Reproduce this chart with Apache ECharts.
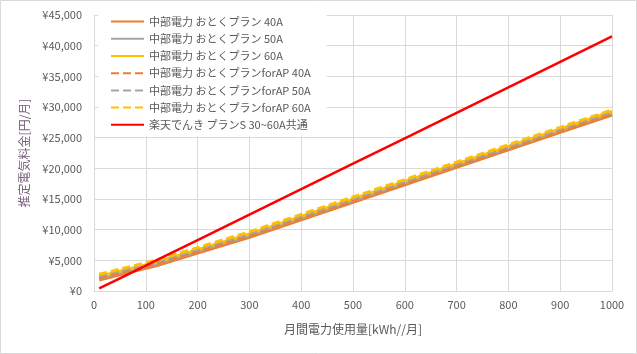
<!DOCTYPE html>
<html>
<head>
<meta charset="utf-8">
<script src="https://cdn.jsdelivr.net/npm/echarts@6/dist/echarts.min.js"></script>
<style>
  html, body { margin: 0; padding: 0; background: #fff; }
  #main { width: 637px; height: 354px; }
</style>
</head>
<body>
<div id="main"></div>
<script>
// 使用量 [kWh/月]
var kwh = [10, 50, 100, 120, 200, 300, 400, 500, 600, 700, 800, 900, 1000];

// 推定電気料金 [円/月]
var chubu40 = [1800, 2640, 3690, 4110, 6170, 8740, 11600, 14450, 17300, 20150, 23000, 25850, 28700];
var chubu50 = [2090, 2930, 3980, 4400, 6460, 9030, 11890, 14740, 17590, 20440, 23290, 26140, 28990];
var chubu60 = [2370, 3210, 4260, 4680, 6740, 9310, 12170, 15020, 17870, 20720, 23570, 26420, 29270];
var chubuAP40 = [2150, 2990, 4040, 4460, 6510, 9070, 11920, 14760, 17600, 20440, 23280, 26120, 28960];
var chubuAP50 = [2440, 3280, 4330, 4750, 6800, 9360, 12210, 15050, 17890, 20730, 23570, 26410, 29250];
var chubuAP60 = [2720, 3560, 4610, 5030, 7080, 9640, 12490, 15330, 18170, 21010, 23850, 26690, 29530];
var rakutenS = [415, 2075, 4150, 4980, 8300, 12450, 16600, 20750, 24900, 29050, 33200, 37350, 41500];

var seriesNames = [
  "中部電力 おとくプラン 40A",
  "中部電力 おとくプラン 50A",
  "中部電力 おとくプラン 60A",
  "中部電力 おとくプランforAP 40A",
  "中部電力 おとくプランforAP 50A",
  "中部電力 おとくプランforAP 60A",
  "楽天でんき プランS 30~60A共通"
];

function pairs(vals) {
  return kwh.map(function (x, i) { return [x, vals[i]]; });
}

var chart = echarts.init(document.getElementById("main"));

function line(name, vals, color, dashed, width) {
  return {
    name: name,
    type: "line",
    data: pairs(vals),
    symbol: "none",
    showSymbol: false,
    animation: false,
    lineStyle: {
      color: color,
      width: width,
      type: dashed ? [8, 4] : "solid",
      cap: "butt"
    },
    itemStyle: { color: color }
  };
}

var txt = "#595959";

var option = {
  textStyle: { fontFamily: "'Noto Sans CJK JP', 'Noto Sans', sans-serif" },
  animation: false,
  grid: { left: 94, right: 25, top: 15, bottom: 63 },
  graphic: [{
    type: "rect",
    z: 100,
    silent: true,
    shape: { x: 0.5, y: 0.5, width: 636, height: 353 },
    style: { fill: "none", stroke: "#d9d9d9", lineWidth: 1 }
  }],
  legend: {
    orient: "vertical",
    left: 98,
    top: 10,
    padding: [6, 16, 6, 12],
    backgroundColor: "#fff",
    itemWidth: 33,
    itemHeight: 14,
    itemGap: 6,
    itemTextGap: 4,
    itemStyle: { opacity: 0 },
    textStyle: { color: txt, fontSize: 11 },
    data: seriesNames
  },
  xAxis: {
    type: "value",
    min: 0,
    max: 1000,
    interval: 100,
    name: "月間電力使用量[kWh//月]",
    nameLocation: "middle",
    nameGap: 32,
    nameTextStyle: { color: txt, fontSize: 12 },
    axisLine: { show: true, lineStyle: { color: "#d9d9d9" } },
    axisTick: { show: false },
    axisLabel: {
      color: txt,
      fontSize: 11,
      margin: 8,
      formatter: function (v) { return String(v); }
    },
    splitLine: { show: true, lineStyle: { color: "#d9d9d9" } }
  },
  yAxis: {
    type: "value",
    min: 0,
    max: 45000,
    interval: 5000,
    name: "推定電気料金[円/月]",
    nameLocation: "middle",
    nameRotate: 90,
    nameGap: 64,
    nameTextStyle: { color: "#75607a", fontSize: 12 },
    axisLine: { show: true, lineStyle: { color: "#d9d9d9" } },
    axisTick: { show: false },
    axisLabel: {
      color: txt,
      fontSize: 11,
      margin: 12,
      formatter: function (v) { return "¥" + v.toLocaleString("en-US"); }
    },
    splitLine: { show: true, lineStyle: { color: "#d9d9d9" } }
  },
  series: [
    line(seriesNames[0], chubu40, "#ED7D31", false, 3),
    line(seriesNames[1], chubu50, "#A5A5A5", false, 3),
    line(seriesNames[2], chubu60, "#FFC000", false, 3),
    line(seriesNames[3], chubuAP40, "#ED7D31", true, 3),
    line(seriesNames[4], chubuAP50, "#A5A5A5", true, 3),
    line(seriesNames[5], chubuAP60, "#FFC000", true, 3),
    line(seriesNames[6], rakutenS, "#FF0000", false, 2.5)
  ]
};

chart.setOption(option);
</script>
</body>
</html>
